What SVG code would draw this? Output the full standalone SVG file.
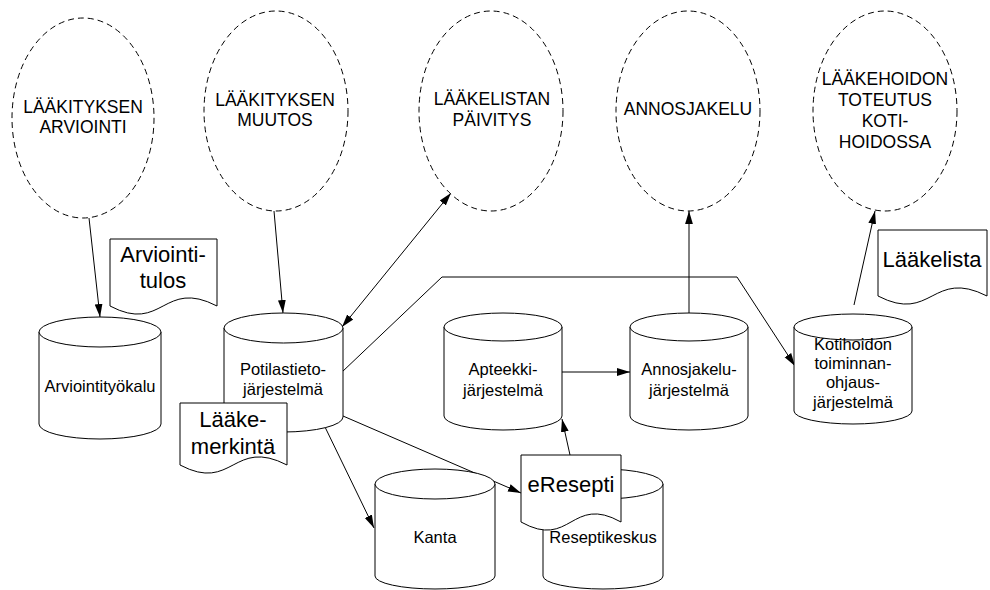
<svg xmlns="http://www.w3.org/2000/svg" width="990" height="590" viewBox="0 0 990 590">
  <style>
    .proc { fill: #fff; stroke: #000; stroke-width: 1; stroke-dasharray: 6 4; }
    .db { fill: #fff; stroke: #000; stroke-width: 1; }
    .doc { fill: #fff; stroke: #000; stroke-width: 1; }
    .conn { fill: none; stroke: #000; stroke-width: 1; }
    text { font-family: "Liberation Sans", Arial, sans-serif; fill: #000; text-anchor: middle; }
    .tp { font-size: 17.5px; }
    .td { font-size: 16.5px; }
    .tdoc { font-size: 22px; }
  </style>
  <defs>
    <marker id="arrow" viewBox="0 0 10 10" refX="10" refY="5" markerWidth="13" markerHeight="13" markerUnits="userSpaceOnUse" orient="auto-start-reverse">
      <path d="M0,2 L10,5 L0,8 Z" fill="#000"/>
    </marker>
  </defs>

  <!-- connectors -->
  <g id="connectors">
    <line class="conn" x1="89" y1="218" x2="100" y2="317" marker-end="url(#arrow)"/>
    <line class="conn" x1="274" y1="211" x2="283" y2="313" marker-end="url(#arrow)"/>
    <line class="conn" x1="342" y1="327" x2="451" y2="193" marker-start="url(#arrow)" marker-end="url(#arrow)"/>
    <polyline class="conn" points="342,372 442,277 737,277 795,366" marker-end="url(#arrow)"/>
    <line class="conn" x1="562" y1="372" x2="630" y2="372" marker-end="url(#arrow)"/>
    <line class="conn" x1="689" y1="313" x2="689" y2="211" marker-end="url(#arrow)"/>
    <line class="conn" x1="854" y1="305" x2="875" y2="211" marker-end="url(#arrow)"/>
    <line class="conn" x1="325" y1="427" x2="374" y2="528" marker-end="url(#arrow)"/>
    <line class="conn" x1="343" y1="416" x2="521" y2="493" marker-end="url(#arrow)"/>
    <line class="conn" x1="570" y1="455" x2="562" y2="419" marker-end="url(#arrow)"/>
  </g>

  <!-- process ellipses -->
  <g id="p-arviointi">
    <ellipse class="proc" cx="83" cy="118" rx="71" ry="100"/>
    <text class="tp" x="83" y="113">LÄÄKITYKSEN</text>
    <text class="tp" x="83" y="133">ARVIOINTI</text>
  </g>
  <g id="p-muutos">
    <ellipse class="proc" cx="276" cy="111" rx="72" ry="100"/>
    <text class="tp" x="275" y="106">LÄÄKITYKSEN</text>
    <text class="tp" x="275" y="126">MUUTOS</text>
  </g>
  <g id="p-paivitys">
    <ellipse class="proc" cx="491" cy="111" rx="72" ry="100"/>
    <text class="tp" x="492" y="105">LÄÄKELISTAN</text>
    <text class="tp" x="492" y="126">PÄIVITYS</text>
  </g>
  <g id="p-annosjakelu">
    <ellipse class="proc" cx="688" cy="111" rx="72" ry="100"/>
    <text class="tp" x="688" y="115">ANNOSJAKELU</text>
  </g>
  <g id="p-kotihoito">
    <ellipse class="proc" cx="885" cy="111" rx="72" ry="100"/>
    <text class="tp" x="885" y="85">LÄÄKEHOIDON</text>
    <text class="tp" x="885" y="106">TOTEUTUS</text>
    <text class="tp" x="885" y="127">KOTI-</text>
    <text class="tp" x="885" y="148">HOIDOSSA</text>
  </g>

  <!-- databases -->
  <g id="db-arviointityokalu">
    <path class="db" d="M39,332 V424 A61,15 0 0 0 161,424 V332"/>
    <ellipse class="db" cx="100" cy="332" rx="61" ry="15"/>
    <text class="td" x="100" y="392">Arviointityökalu</text>
  </g>
  <g id="db-potilastieto">
    <path class="db" d="M224,328 V417 A59.5,15 0 0 0 343,417 V328"/>
    <ellipse class="db" cx="283.5" cy="328" rx="59.5" ry="15"/>
    <text class="td" x="283" y="375">Potilastieto-</text>
    <text class="td" x="283" y="395">järjestelmä</text>
  </g>
  <g id="db-apteekki">
    <path class="db" d="M444,327 V416 A59,14 0 0 0 562,416 V327"/>
    <ellipse class="db" cx="503" cy="327" rx="59" ry="14"/>
    <text class="td" x="503" y="375">Apteekki-</text>
    <text class="td" x="503" y="396">järjestelmä</text>
  </g>
  <g id="db-annosjakelu">
    <path class="db" d="M630,327 V416 A59,14 0 0 0 748,416 V327"/>
    <ellipse class="db" cx="689" cy="327" rx="59" ry="14"/>
    <text class="td" x="689" y="375">Annosjakelu-</text>
    <text class="td" x="689" y="396">järjestelmä</text>
  </g>
  <g id="db-kotihoito">
    <path class="db" d="M794,327 V411 A59,13 0 0 0 912,411 V327"/>
    <ellipse class="db" cx="853" cy="327" rx="59" ry="13"/>
    <text class="td" x="853" y="350">Kotihoidon</text>
    <text class="td" x="853" y="369">toiminnan-</text>
    <text class="td" x="853" y="388">ohjaus-</text>
    <text class="td" x="853" y="408">järjestelmä</text>
  </g>
  <g id="db-kanta">
    <path class="db" d="M375,484 V576 A60,13 0 0 0 495,576 V484"/>
    <ellipse class="db" cx="435" cy="484" rx="60" ry="15"/>
    <text class="td" x="435" y="543">Kanta</text>
  </g>
  <g id="db-reseptikeskus">
    <path class="db" d="M543,484 V576 A60,13 0 0 0 663,576 V484"/>
    <ellipse class="db" cx="603" cy="484" rx="60" ry="15"/>
    <text class="td" x="603" y="543">Reseptikeskus</text>
  </g>

  <!-- documents -->
  <g id="doc-arviointitulos">
    <path class="doc" d="M110,239 H217 V306 C163,278 163,334 110,306 Z"/>
    <text class="tdoc" x="163" y="262">Arviointi-</text>
    <text class="tdoc" x="163" y="288">tulos</text>
  </g>
  <g id="doc-laakemerkinta">
    <path class="doc" d="M180,403 H287 V465 C233,437 233,493 180,465 Z"/>
    <text class="tdoc" x="233" y="427">Lääke-</text>
    <text class="tdoc" x="233" y="454">merkintä</text>
  </g>
  <g id="doc-laakelista">
    <path class="doc" d="M878,230 H987 V296 C932,268 932,324 878,296 Z"/>
    <text class="tdoc" x="932" y="267">Lääkelista</text>
  </g>
  <g id="doc-eresepti">
    <path class="doc" d="M521,455 H621 V522 C571,494 571,550 521,522 Z"/>
    <text class="tdoc" x="571" y="492">eResepti</text>
  </g>
</svg>
